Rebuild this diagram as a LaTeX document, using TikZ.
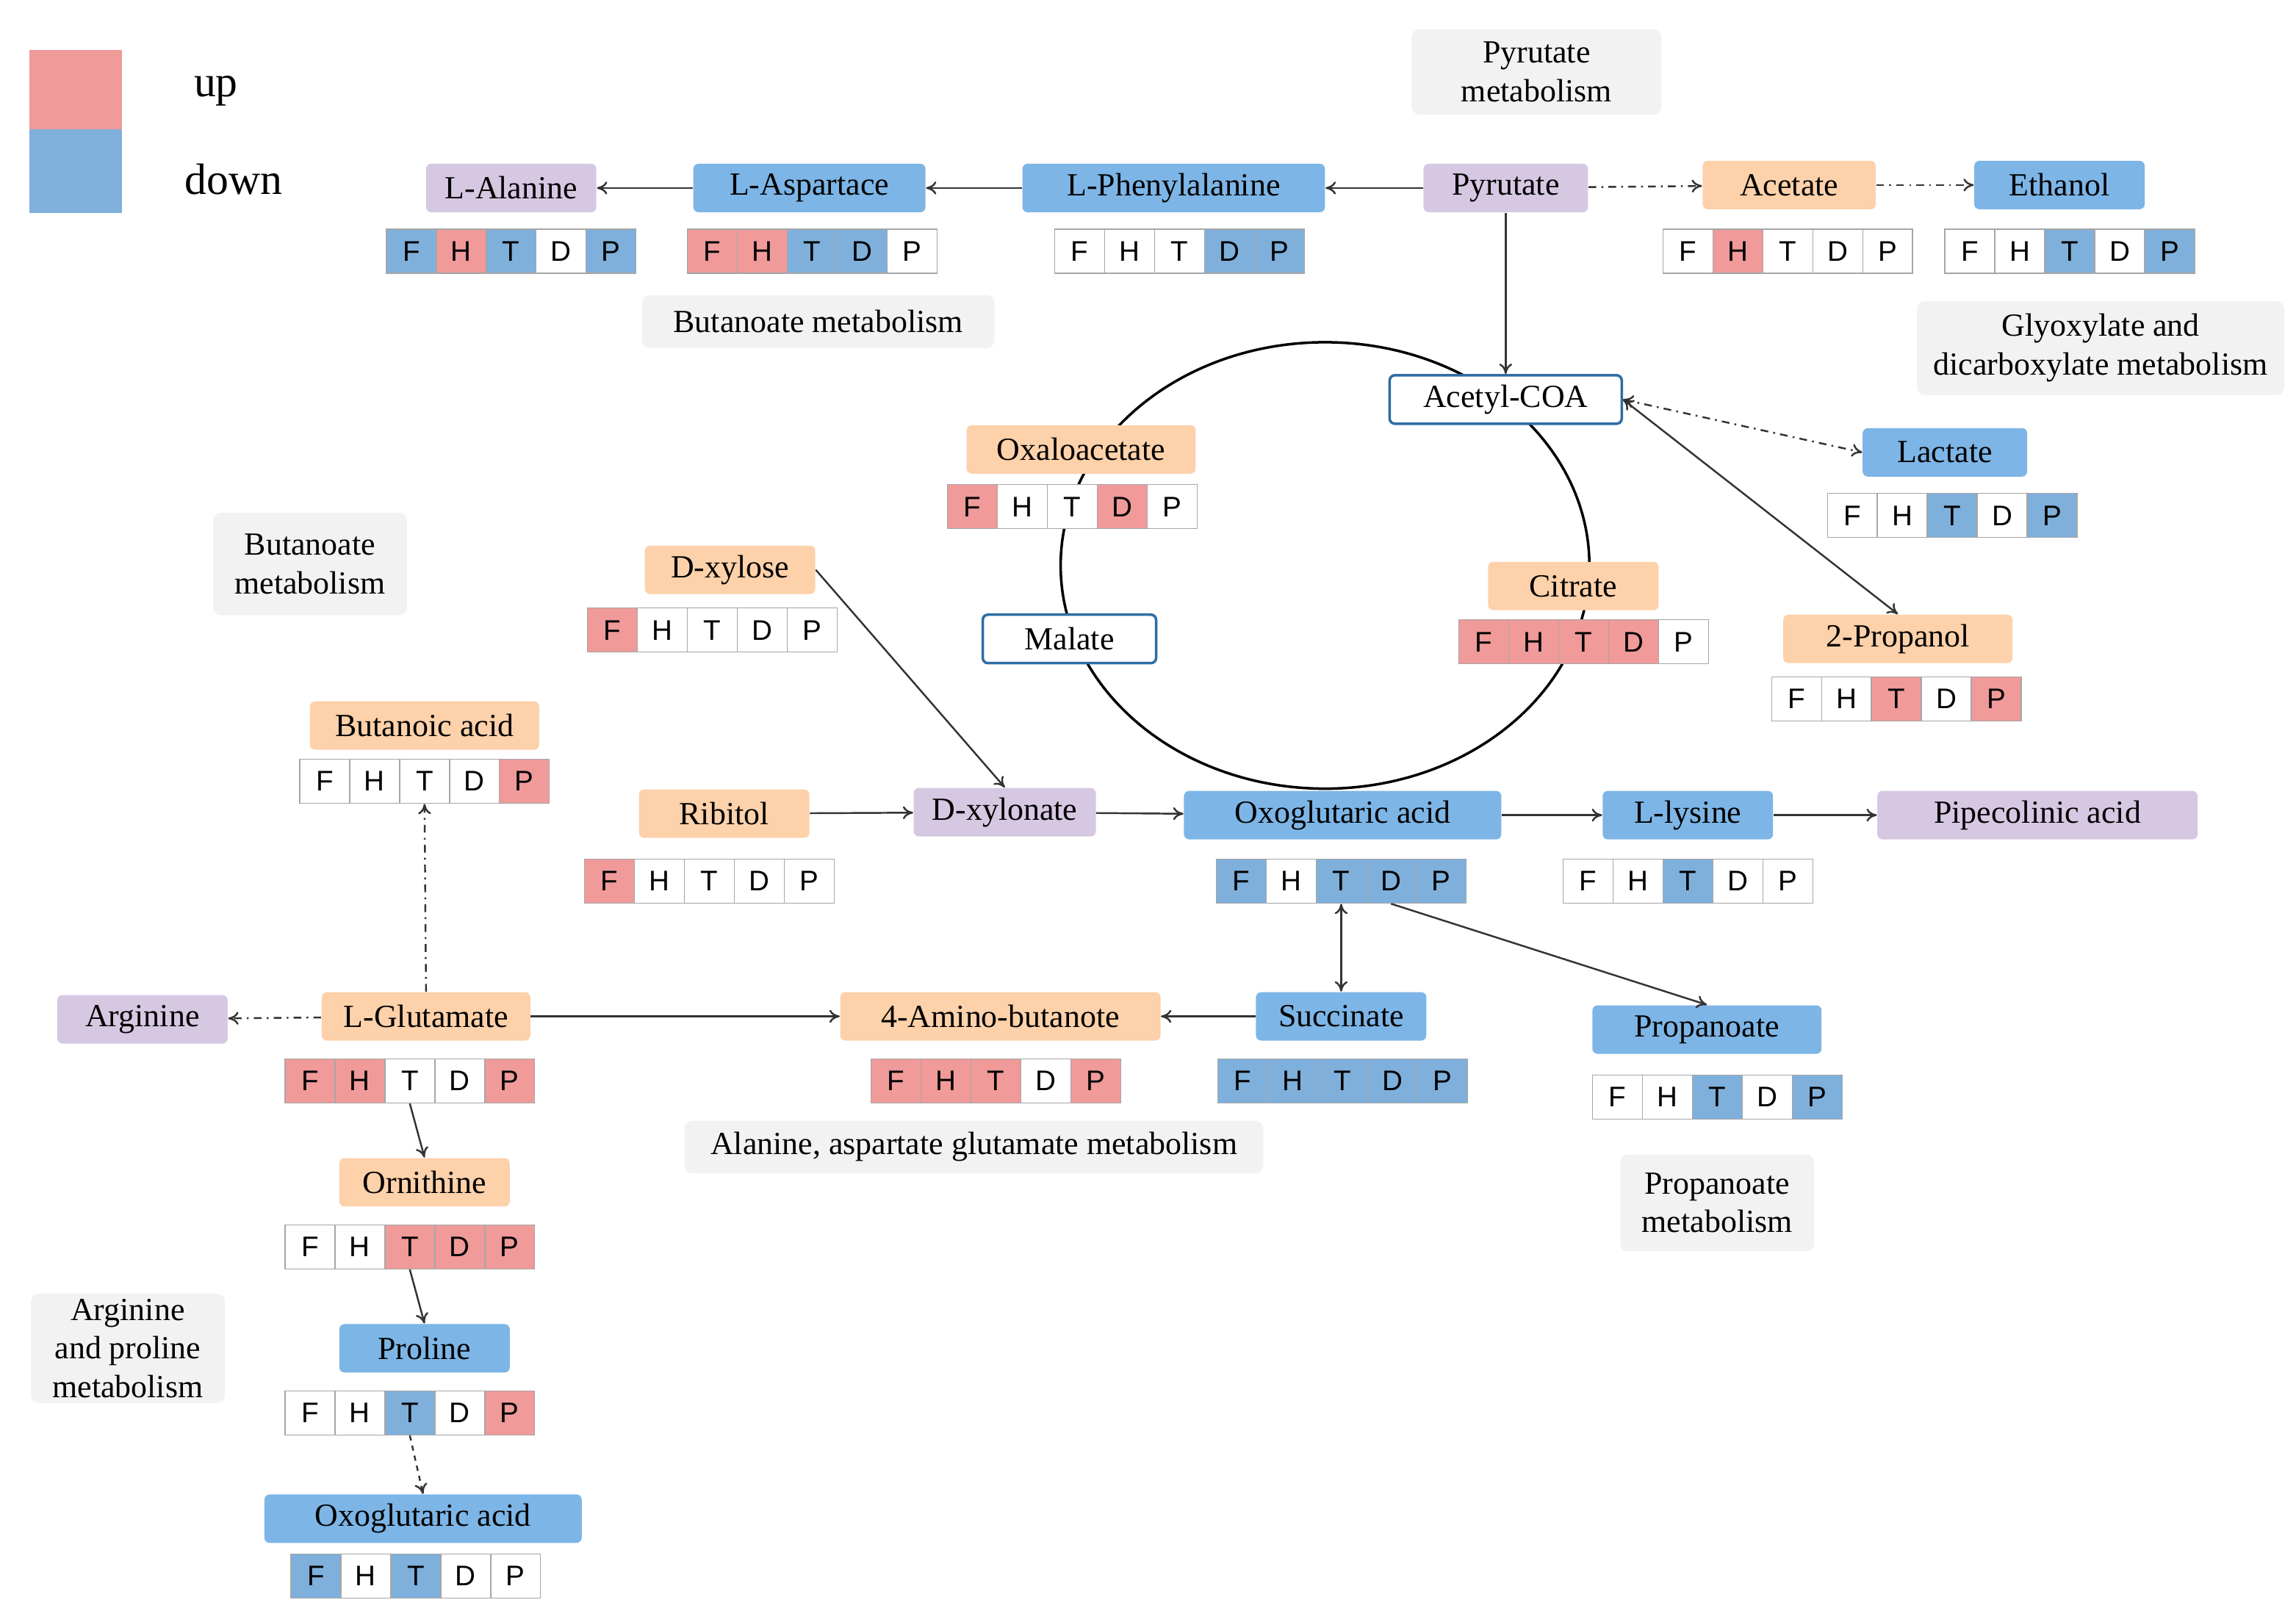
\documentclass[tikz,border=0pt]{standalone}
\usepackage{fontspec}
\setmainfont{Liberation Serif}
\newfontfamily\cellfont{Liberation Sans}
\usetikzlibrary{arrows.meta}
\definecolor{cR}{HTML}{F09A9A}
\definecolor{cB}{HTML}{7FB0DC}
\definecolor{cW}{HTML}{FFFFFF}
\definecolor{nB}{HTML}{7DB5E6}
\definecolor{nO}{HTML}{FDD1AA}
\definecolor{nP}{HTML}{D6C8E2}
\definecolor{gBox}{HTML}{F2F2F2}
\definecolor{bBord}{HTML}{2E6DA4}
\newcommand\cells[8]{%
 \foreach \l/\c [count=\i from 0] in {F/#4,H/#5,T/#6,D/#7,P/#8}{%
  \node[cell,fill=\c] (#1\l) at ({#2+17+34*\i},#3) {\l};}}
\tikzset{
 lab/.style={rounded corners=2pt,minimum height=0.66cm,inner sep=1pt,font=\fontsize{12.5}{14}\selectfont},
 nb/.style={lab,fill=nB,minimum width=#1*0.02cm},
 no/.style={lab,fill=nO,minimum width=#1*0.02cm},
 np/.style={lab,fill=nP,minimum width=#1*0.02cm},
 nw/.style={lab,fill=white,draw=bBord,line width=1pt,minimum width=#1*0.02cm},
 gb/.style={rounded corners=3pt,fill=gBox,align=center,inner sep=2pt,font=\fontsize{12.5}{15}\selectfont},
 cell/.style={draw=black!35,line width=0.4pt,minimum width=0.68cm,minimum height=0.6cm,inner sep=0pt,font=\cellfont\fontsize{11}{12}\selectfont},
 ar/.style={draw=black!80,line width=0.7pt,-{To[length=4pt,width=5pt]}},
 dd/.style={dash dot}
}
\begin{document}
\begin{tikzpicture}[x=0.02cm,y=-0.02cm]
\useasboundingbox (0,0) rectangle (1563,1104);
% legend
\fill[cR] (20,34) rectangle (83,88);
\fill[cB] (20,88) rectangle (83,145);
\node[font=\fontsize{17}{20}\selectfont] (up) at (147,62) {up};
\node[font=\fontsize{17}{20}\selectfont] (down) at (159,122) {down};
% circle
\draw[line width=1pt] (902,385) ellipse [x radius=3.6cm, y radius=3.04cm];
% gray boxes
\node[gb,minimum width=3.4cm,minimum height=1.16cm] (g1) at (1046,49) {Pyrutate\\metabolism};
\node[gb,minimum width=4.8cm,minimum height=0.72cm] (g2) at (557,219) {Butanoate metabolism};
\node[gb,minimum width=5cm,minimum height=1.28cm] (g3) at (1430,237) {Glyoxylate and\\dicarboxylate metabolism};
\node[gb,minimum width=2.64cm,minimum height=1.4cm] (g4) at (211,384) {Butanoate\\metabolism};
\node[gb,minimum width=7.88cm,minimum height=0.72cm] (g5) at (663,781) {Alanine, aspartate glutamate metabolism};
\node[gb,minimum width=2.64cm,minimum height=1.32cm] (g6) at (1169,819) {Propanoate\\metabolism};
\node[gb,minimum width=2.64cm,minimum height=1.44cm] (g7) at (87,918) {Arginine\\and proline\\metabolism};
% nodes
\node[np=116] (ala) at (348,128) {L-Alanine};
\node[nb=158] (asp) at (551,128) {L-Aspartace};
\node[nb=206] (phe) at (799,128) {L-Phenylalanine};
\node[np=112] (pyr) at (1025,128) {Pyrutate};
\node[no=118] (ace) at (1218,126) {Acetate};
\node[nb=116] (eth) at (1402,126) {Ethanol};
\node[nw=158] (acoa) at (1025,272) {Acetyl-COA};
\node[nb=112] (lac) at (1324,308) {Lactate};
\node[no=156] (oxa) at (736,306) {Oxaloacetate};
\node[no=116] (dxy) at (497,388) {D-xylose};
\node[nw=118] (mal) at (728,435) {Malate};
\node[no=116] (cit) at (1071,399) {Citrate};
\node[no=156] (prop2) at (1292,435) {2-Propanol};
\node[no=156] (but) at (289,494) {Butanoic acid};
\node[no=116] (rib) at (493,554) {Ribitol};
\node[np=124] (dxn) at (684,553) {D-xylonate};
\node[nb=216] (oxg) at (914,555) {Oxoglutaric acid};
\node[nb=116] (lys) at (1149,555) {L-lysine};
\node[np=218] (pip) at (1387,555) {Pipecolinic acid};
\node[np=116] (arg) at (97,694) {Arginine};
\node[no=142] (glu) at (290,692) {L-Glutamate};
\node[no=218] (gaba) at (681,692) {4-Amino-butanote};
\node[nb=116] (suc) at (913,692) {Succinate};
\node[nb=156] (pro) at (1162,701) {Propanoate};
\node[no=116] (orn) at (289,805) {Ornithine};
\node[nb=116] (prl) at (289,918) {Proline};
\node[nb=216] (oxg2) at (288,1034) {Oxoglutaric acid};
% cells
\cells{ala}{263}{171}{cB}{cR}{cB}{cW}{cB}
\cells{asp}{468}{171}{cR}{cR}{cB}{cB}{cW}
\cells{phe}{718}{171}{cW}{cW}{cW}{cB}{cB}
\cells{ace}{1132}{171}{cW}{cR}{cW}{cW}{cW}
\cells{eth}{1324}{171}{cW}{cW}{cB}{cW}{cB}
\cells{oxa}{645}{345}{cR}{cW}{cW}{cR}{cW}
\cells{lac}{1244}{351}{cW}{cW}{cB}{cW}{cB}
\cells{dxy}{400}{429}{cR}{cW}{cW}{cW}{cW}
\cells{cit}{993}{437}{cR}{cR}{cR}{cR}{cW}
\cells{prop2}{1206}{476}{cW}{cW}{cR}{cW}{cR}
\cells{but}{204}{532}{cW}{cW}{cW}{cW}{cR}
\cells{rib}{398}{600}{cR}{cW}{cW}{cW}{cW}
\cells{oxg}{828}{600}{cB}{cW}{cB}{cB}{cB}
\cells{lys}{1064}{600}{cW}{cW}{cB}{cW}{cW}
\cells{glu}{194}{736}{cR}{cR}{cW}{cW}{cR}
\cells{gaba}{593}{736}{cR}{cR}{cR}{cW}{cR}
\cells{suc}{829}{736}{cB}{cB}{cB}{cB}{cB}
\cells{pro}{1084}{747}{cW}{cW}{cB}{cW}{cB}
\cells{orn}{194}{849}{cW}{cW}{cR}{cR}{cR}
\cells{prl}{194}{962}{cW}{cW}{cB}{cW}{cR}
\cells{oxg2}{198}{1073}{cB}{cW}{cB}{cW}{cW}
% arrows
\draw[ar] (asp) -- (ala);
\draw[ar] (phe) -- (asp);
\draw[ar] (pyr) -- (phe);
\draw[ar,dd] (pyr) -- (ace);
\draw[ar,dd] (ace) -- (eth);
\draw[ar] (pyr) -- (acoa);
\draw[ar,dd,{To[length=4pt,width=5pt]}-{To[length=4pt,width=5pt]}] (acoa.east) -- (lac.west);
\draw[ar,{To[length=4pt,width=5pt]}-{To[length=4pt,width=5pt]}] (acoa.east) -- (prop2.north);
\draw[ar] (dxy.east) -- (dxn.north);
\draw[ar] (rib) -- (dxn);
\draw[ar] (dxn) -- (oxg);
\draw[ar] (oxg) -- (lys);
\draw[ar] (lys) -- (pip);
\draw[ar,{To[length=4pt,width=5pt]}-{To[length=4pt,width=5pt]}] (oxgT.south) -- (suc.north);
\draw[ar] (oxgD.south) -- (pro.north);
\draw[ar] (suc) -- (gaba);
\draw[ar] (glu) -- (gaba);
\draw[ar,dd] (glu) -- (arg);
\draw[ar,dd] (glu.north) -- (butT.south);
\draw[ar] (gluT.south) -- (orn.north);
\draw[ar] (ornT.south) -- (prl.north);
\draw[ar,dash pattern=on 2pt off 2pt] (prlT.south) -- (oxg2.north);
\end{tikzpicture}
\end{document}
